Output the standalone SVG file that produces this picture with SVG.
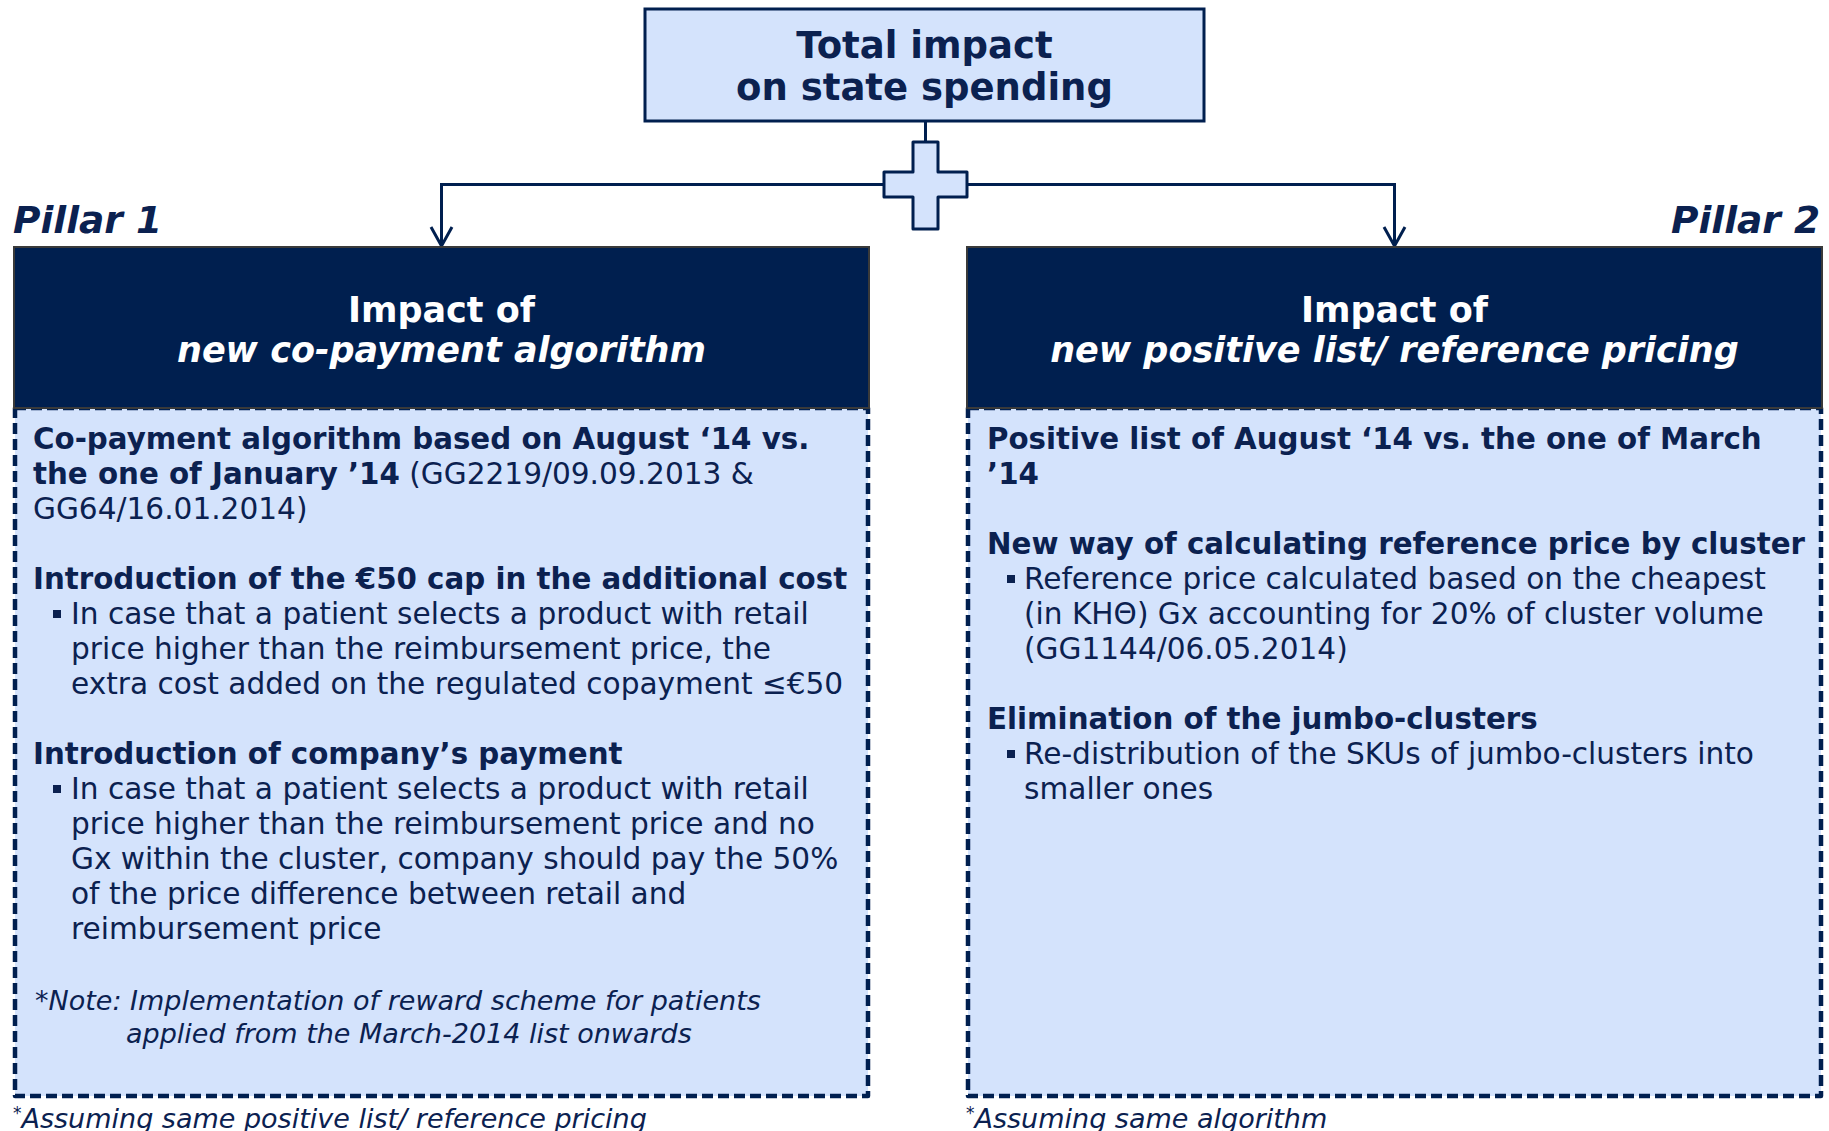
<svg xmlns="http://www.w3.org/2000/svg" width="1829" height="1131" viewBox="0 0 1829 1131">
  <style>
    .t { font-family: "DejaVu Sans", Verdana, sans-serif; fill: #0B2150; }
    .b { font-weight: bold; font-size: 29.3px; }
    .i { font-style: italic; }
    .body { font-size: 29.6px; }
    .note { font-size: 27px; font-style: italic; }
    .foot { font-size: 27px; font-style: italic; }
    .hdr { font-family: "DejaVu Sans", Verdana, sans-serif; font-size: 35px; font-weight: bold; fill: #FFFFFF; text-anchor: middle; }
    .pillar { font-family: "DejaVu Sans", Verdana, sans-serif; font-size: 37.5px; font-weight: bold; font-style: italic; fill: #0B2150; }
    .head-box { fill: #001F4F; stroke: #3A3A3A; stroke-width: 2; }
    .body-box { fill: #D4E3FC; stroke: #001F4F; stroke-width: 4.5; stroke-dasharray: 11 5; stroke-linejoin: round; }
    .line { fill: none; stroke: #001F4F; stroke-width: 3; }
    .dot { fill: #0B2150; }
  </style>

  <!-- connectors: branch from the plus sign down to both pillars -->
  <g id="connectors">
    <line class="line" x1="925.5" y1="121" x2="925.5" y2="142"/>
    <polyline class="line" points="441.5,247 441.5,184.5 1394.5,184.5 1394.5,247"/>
    <polyline class="line" points="431,227 441.5,246 452,227"/>
    <polyline class="line" points="1384,227 1394.5,246 1405,227"/>
  </g>

  <!-- top node -->
  <g id="total-impact">
    <rect x="645" y="9" width="559" height="112" fill="#D4E3FC" stroke="#001F4F" stroke-width="3"/>
    <text class="t" font-weight="bold" x="924.5" y="58" font-size="37" text-anchor="middle">Total impact</text>
    <text class="t" font-weight="bold" x="924.5" y="100" font-size="37" text-anchor="middle">on state spending</text>
  </g>

  <!-- plus sign on the branch point -->
  <g id="plus">
    <path d="M913,142 H938 V172 H967 V197 H938 V229 H913 V197 H884 V172 H913 Z" fill="#D4E3FC" stroke="#001F4F" stroke-width="3" stroke-linejoin="round"/>
  </g>

  <!-- pillar 1 -->
  <g id="pillar-1">
    <text class="pillar" x="13" y="233">Pillar 1</text>
    <rect class="body-box" x="15" y="408" width="853" height="688"/>
    <rect class="head-box" x="14" y="247" width="855" height="161"/>
    <text class="hdr" x="441.5" y="322">Impact of</text>
    <text class="hdr" x="441.5" y="362" font-style="italic">new co-payment algorithm</text>

    <g class="t body">
      <text x="33" y="449" class="b">Co-payment algorithm based on August ‘14 vs.</text>
      <text x="33" y="484"><tspan class="b">the one of January ’14</tspan> (GG2219/09.09.2013 &amp;</text>
      <text x="33" y="519">GG64/16.01.2014)</text>

      <text x="33" y="589" class="b">Introduction of the €50 cap in the additional cost</text>
      <rect class="dot" x="53" y="610" width="8" height="8"/>
      <text x="71" y="624">In case that a patient selects a product with retail</text>
      <text x="71" y="659">price higher than the reimbursement price, the</text>
      <text x="71" y="694">extra cost added on the regulated copayment ≤€50</text>

      <text x="33" y="764" class="b">Introduction of company’s payment</text>
      <rect class="dot" x="53" y="785" width="8" height="8"/>
      <text x="71" y="799">In case that a patient selects a product with retail</text>
      <text x="71" y="834">price higher than the reimbursement price and no</text>
      <text x="71" y="869">Gx within the cluster, company should pay the 50%</text>
      <text x="71" y="904">of the price difference between retail and</text>
      <text x="71" y="939">reimbursement price</text>
    </g>
    <text class="t note" x="35" y="1010">*Note: Implementation of reward scheme for patients</text>
    <text class="t note" x="126" y="1043">applied from the March-2014 list onwards</text>
    <text class="t foot" x="13" y="1128"><tspan font-size="17" dy="-9">*</tspan><tspan dy="9">Assuming same positive list/ reference pricing</tspan></text>
  </g>

  <!-- pillar 2 -->
  <g id="pillar-2">
    <text class="pillar" x="1820" y="233" text-anchor="end">Pillar 2</text>
    <rect class="body-box" x="968" y="408" width="853" height="688"/>
    <rect class="head-box" x="967" y="247" width="855" height="161"/>
    <text class="hdr" x="1394.5" y="322">Impact of</text>
    <text class="hdr" x="1394.5" y="362" font-style="italic">new positive list/ reference pricing</text>

    <g class="t body">
      <text x="987" y="449" class="b">Positive list of August ‘14 vs. the one of March</text>
      <text x="987" y="484" class="b">’14</text>

      <text x="987" y="554" class="b">New way of calculating reference price by cluster</text>
      <rect class="dot" x="1007" y="575" width="8" height="8"/>
      <text x="1024" y="589">Reference price calculated based on the cheapest</text>
      <text x="1024" y="624">(in KHΘ) Gx accounting for 20% of cluster volume</text>
      <text x="1024" y="659">(GG1144/06.05.2014)</text>

      <text x="987" y="729" class="b">Elimination of the jumbo-clusters</text>
      <rect class="dot" x="1007" y="750" width="8" height="8"/>
      <text x="1024" y="764">Re-distribution of the SKUs of jumbo-clusters into</text>
      <text x="1024" y="799">smaller ones</text>
    </g>
    <text class="t foot" x="966" y="1128"><tspan font-size="17" dy="-9">*</tspan><tspan dy="9">Assuming same algorithm</tspan></text>
  </g>
</svg>
